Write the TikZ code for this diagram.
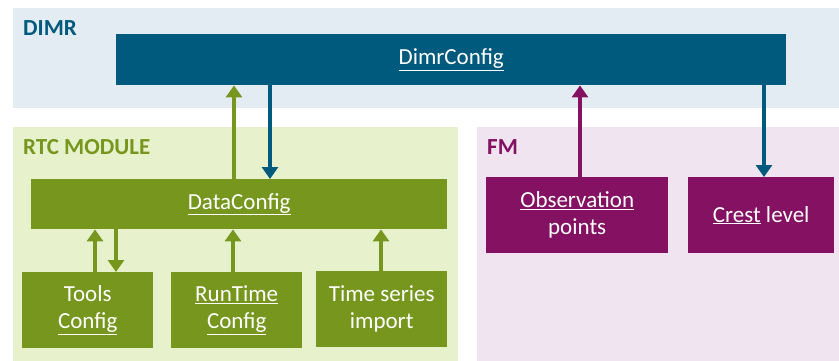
\documentclass[tikz,border=0pt]{standalone}
\usepackage{fontspec}
\setmainfont{Carlito}
\usetikzlibrary{arrows.meta}
\definecolor{dimrbg}{RGB}{228,236,243}
\definecolor{dimrblue}{RGB}{0,90,125}
\definecolor{rtcbg}{RGB}{231,242,205}
\definecolor{rtcgreen}{RGB}{118,150,30}
\definecolor{fmbg}{RGB}{240,228,240}
\definecolor{fmpurple}{RGB}{132,17,98}
\tikzset{
  region/.style={draw=none, anchor=north west, inner sep=0pt},
  box/.style={anchor=north west, inner sep=0pt, text=white, font=\fontsize{23}{27}\selectfont, align=center},
  lbl/.style={anchor=west, inner sep=0pt, font=\fontsize{23}{27}\selectfont\bfseries},
  conn/.style={line width=4pt, -{Triangle[width=16pt,length=12pt]}},
}
\begin{document}
\begin{tikzpicture}[x=1pt,y=-1pt]
\useasboundingbox (0,0) rectangle (839,361);
% regions
\node[region, fill=dimrbg, minimum width=826pt, minimum height=100pt] (dimrbg) at (13,8) {};
\node[region, fill=rtcbg, minimum width=445pt, minimum height=234pt] (rtcbg) at (13,127) {};
\node[region, fill=fmbg, minimum width=362pt, minimum height=234pt] (fmbg) at (477,127) {};
\node[lbl, text=dimrblue] (dimrlbl) at (23,28) {DIMR};
\node[lbl, text=rtcgreen] (rtclbl) at (23,147) {RTC MODULE};
\node[lbl, text=fmpurple] (fmlbl) at (487,147) {FM};
% boxes
\node[box, fill=dimrblue, minimum width=670pt, minimum height=51pt] (dimr) at (116,34) {\underline{DimrConfig}};
\node[box, fill=rtcgreen, minimum width=416pt, minimum height=50pt] (dc) at (31,179) {\underline{DataConfig}};
\node[box, fill=rtcgreen, minimum width=131pt, minimum height=76pt] (tools) at (22,272) {Tools\\\underline{Config}};
\node[box, fill=rtcgreen, minimum width=131pt, minimum height=76pt] (rt) at (171,272) {\underline{RunTime}\\\underline{Config}};
\node[box, fill=rtcgreen, minimum width=131pt, minimum height=76pt] (ts) at (316,271) {Time series\\import};
\node[box, fill=fmpurple, minimum width=182pt, minimum height=76pt] (obs) at (486,177) {\underline{Observation}\\points};
\node[box, fill=fmpurple, minimum width=146pt, minimum height=76pt] (crest) at (688,177) {\underline{Crest} level};
% connectors
\draw[conn, rtcgreen] (dc.north -| 234,0) -- (dimr.south -| 234,0);
\draw[conn, dimrblue] (dimr.south -| 270,0) -- (dc.north -| 270,0);
\draw[conn, fmpurple] (obs.north -| 580,0) -- (dimr.south -| 580,0);
\draw[conn, dimrblue] (dimr.south -| 764,0) -- (crest.north -| 764,0);
\draw[conn, rtcgreen] (tools.north -| 95,0) -- (dc.south -| 95,0);
\draw[conn, rtcgreen] (dc.south -| 116,0) -- (tools.north -| 116,0);
\draw[conn, rtcgreen] (rt.north -| 233,0) -- (dc.south -| 233,0);
\draw[conn, rtcgreen] (ts.north -| 381,0) -- (dc.south -| 381,0);
\end{tikzpicture}
\end{document}
